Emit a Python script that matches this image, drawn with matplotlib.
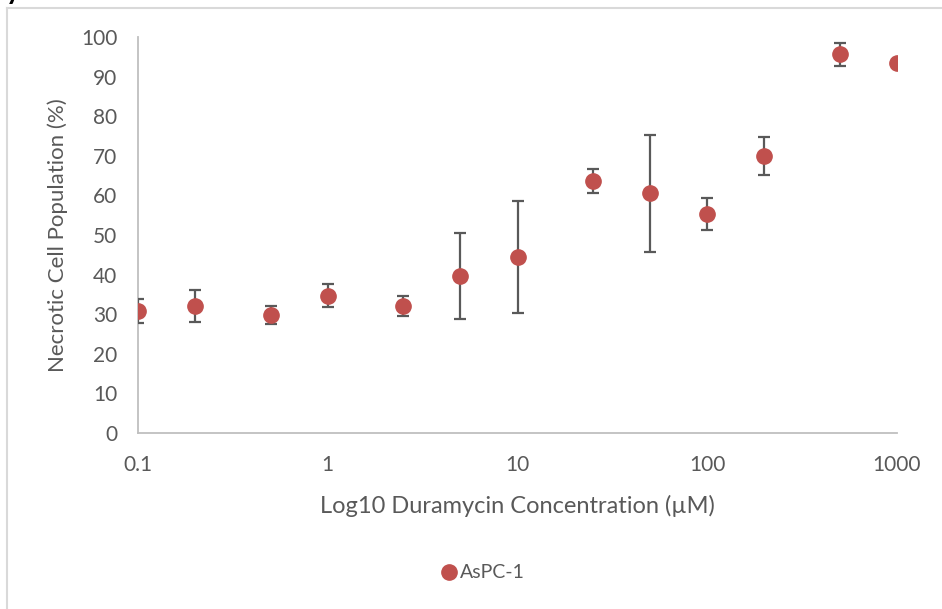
import matplotlib
matplotlib.use("Agg")
import matplotlib.pyplot as plt
from matplotlib.lines import Line2D

# 濃度 (µM) と壊死細胞の割合 (%)
conc = [0.1, 0.2, 0.5, 1, 2.5, 5, 10, 25, 50, 100, 200, 500, 1000]
necrotic = [30.8, 32.1, 29.8, 34.7, 32.1, 39.6, 44.4, 63.6, 60.5, 55.3, 70.0, 95.6, 93.4]
err = [3.0, 4.0, 2.2, 2.9, 2.5, 10.8, 14.2, 3.1, 14.8, 4.1, 4.8, 2.9, 0.0]

x_ticks = [0.1, 1, 10, 100, 1000]
x_labels = ["0.1", "1", "10", "100", "1000"]
y_ticks = list(range(0, 101, 10))

plt.rcParams['font.family'] = ['Lato', 'DejaVu Sans']
text_col = "#595959"

fig = plt.figure(figsize=(9.42, 6.09), dpi=100)
ax = fig.add_axes([138 / 942, 1 - 433 / 609, (897 - 138) / 942, (433 - 37) / 609])

ax.errorbar(conc, necrotic, yerr=err, fmt="o", color="#C0504D", markersize=11,
            ecolor="#595959", elinewidth=1.6, capsize=4.5, capthick=1.6, zorder=3)

ax.set_xscale("log")
ax.set_xlim(0.1, 1000)
ax.set_ylim(0, 100)
ax.set_xticks(x_ticks)
ax.set_xticklabels(x_labels)
ax.minorticks_off()
ax.set_yticks(y_ticks)
ax.tick_params(axis="both", length=0, labelsize=15, colors=text_col)
ax.tick_params(axis="y", pad=15)
ax.tick_params(axis="x", pad=16)

for s in ["top", "right"]:
    ax.spines[s].set_visible(False)
for s in ["left", "bottom"]:
    ax.spines[s].set_color("#BFBFBF")
    ax.spines[s].set_linewidth(1.3)

ax.set_xlabel("Log10 Duramycin Concentration (µM)", fontsize=17, color=text_col, labelpad=14)
ax.set_ylabel("Necrotic Cell Population (%)", fontsize=16, color=text_col, labelpad=9)

# 凡例
handle = Line2D([], [], marker="o", linestyle="none", color="#C0504D", markersize=11)
fig.legend([handle], ["AsPC-1"], loc="center", bbox_to_anchor=(482 / 942, 1 - 573 / 609),
           frameon=False, fontsize=14, labelcolor=text_col, handletextpad=0.1,
           handlelength=1.0)

# グラフ枠
fig.add_artist(Line2D([7 / 942, 7 / 942], [0, 1 - 8 / 609], color="#D9D9D9", lw=1.5))
fig.add_artist(Line2D([7 / 942, 1], [1 - 8 / 609, 1 - 8 / 609], color="#D9D9D9", lw=1.5))
fig.text(6 / 942, 1 + 1 / 609, "y", fontsize=20, fontweight="bold", color="black",
         va="baseline", ha="left")

fig.savefig("out.png", dpi=100)
